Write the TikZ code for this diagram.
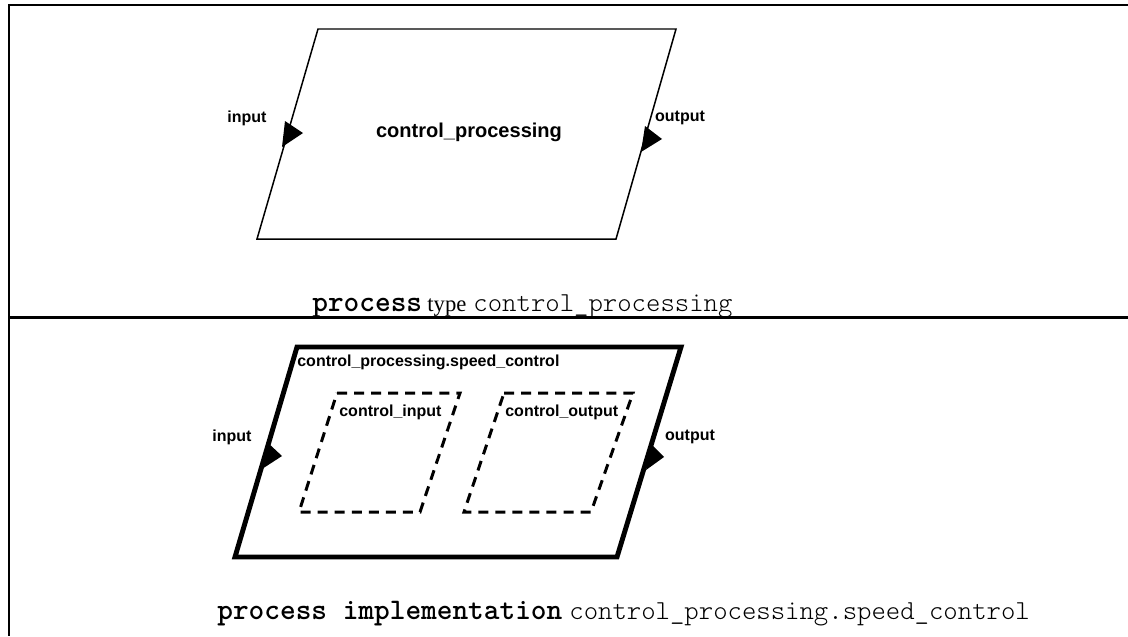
\documentclass[tikz,border=0pt]{standalone}
\usepackage{fontspec}
\setmainfont{Liberation Serif}
\setsansfont{Liberation Sans}
\usetikzlibrary{positioning}

\newcommand{\kw}[1]{{\ttfamily\bfseries\fontsize{17}{20}\selectfont #1}}
\newcommand{\idname}[1]{{\ttfamily\fontseries{l}\fontsize{15.6}{20}\selectfont #1}}

\tikzset{
  portlabel/.style={font=\sffamily\bfseries\fontsize{9.1}{11}\selectfont, inner sep=0pt},
  titlelabel/.style={font=\sffamily\bfseries\fontsize{11.4}{14}\selectfont, inner sep=0pt},
  caption/.style={inner sep=0pt},
  frame/.style={line width=1.7pt},
  thinbox/.style={line width=0.85pt, line join=miter},
  thickbox/.style={line width=2.8pt, line join=miter},
  subbox/.style={line width=1.7pt, dash pattern=on 5.7pt off 4pt},
  port/.style={fill=black, draw=none}
}

\begin{document}
\begin{tikzpicture}[x=0.02cm, y=-0.02cm]
	\useasboundingbox (0,0) rectangle (1128,636);
	
	% frame
	\draw[frame] (1128,5) -- (9,5) -- (9,636);
	\draw[frame] (9,317) -- (1128,317);
	
	% process type
	\draw[thinbox] (318,29) -- (676,29) -- (616,239) -- (257,239) -- cycle;
	\fill[port] (285,121) -- (303,133) -- (282,147) -- cycle;
	\fill[port] (645,126) -- (662,139) -- (641,152) -- cycle;
	\node[portlabel] (typein) at (247,118) {input};
	\node[portlabel] (typeout) at (680,118) {output};
	\node[titlelabel] (typename) at (469,132) {control\_processing};
	\node[caption, anchor=base west] (typecap) at (312,311)
	{\kw{process}\hspace{3pt}{\fontsize{12.9}{15}\selectfont type}\hspace{4pt}\idname{control\_processing}};
	
	% process implementation
	\draw[thickbox] (297,347) -- (681,347) -- (617,557) -- (235,557) -- cycle;
	\draw[subbox] (337,393) -- (460,393) -- (420,512) -- (299,512) -- cycle;
	\draw[subbox] (504,393) -- (633,393) -- (591,512) -- (464,512) -- cycle;
	\fill[port] (267,442) -- (282,456) -- (262,469) -- cycle;
	\fill[port] (651,444) -- (664,457) -- (646,470) -- cycle;
	\node[portlabel] (implin) at (232,437) {input};
	\node[portlabel] (implout) at (690,437) {output};
	\node[portlabel, anchor=west] (implname) at (297,362) {control\_processing.speed\_control};
	\node[portlabel, anchor=west] (ctrlin) at (339,412) {control\_input};
	\node[portlabel, anchor=west] (ctrlout) at (505,412) {control\_output};
	\node[caption, anchor=base west] (implcap) at (217,619)
	{\kw{process implementation}\hspace{4pt}\idname{control\_processing.speed\_control}};
	
	\end{tikzpicture}
\end{document}
